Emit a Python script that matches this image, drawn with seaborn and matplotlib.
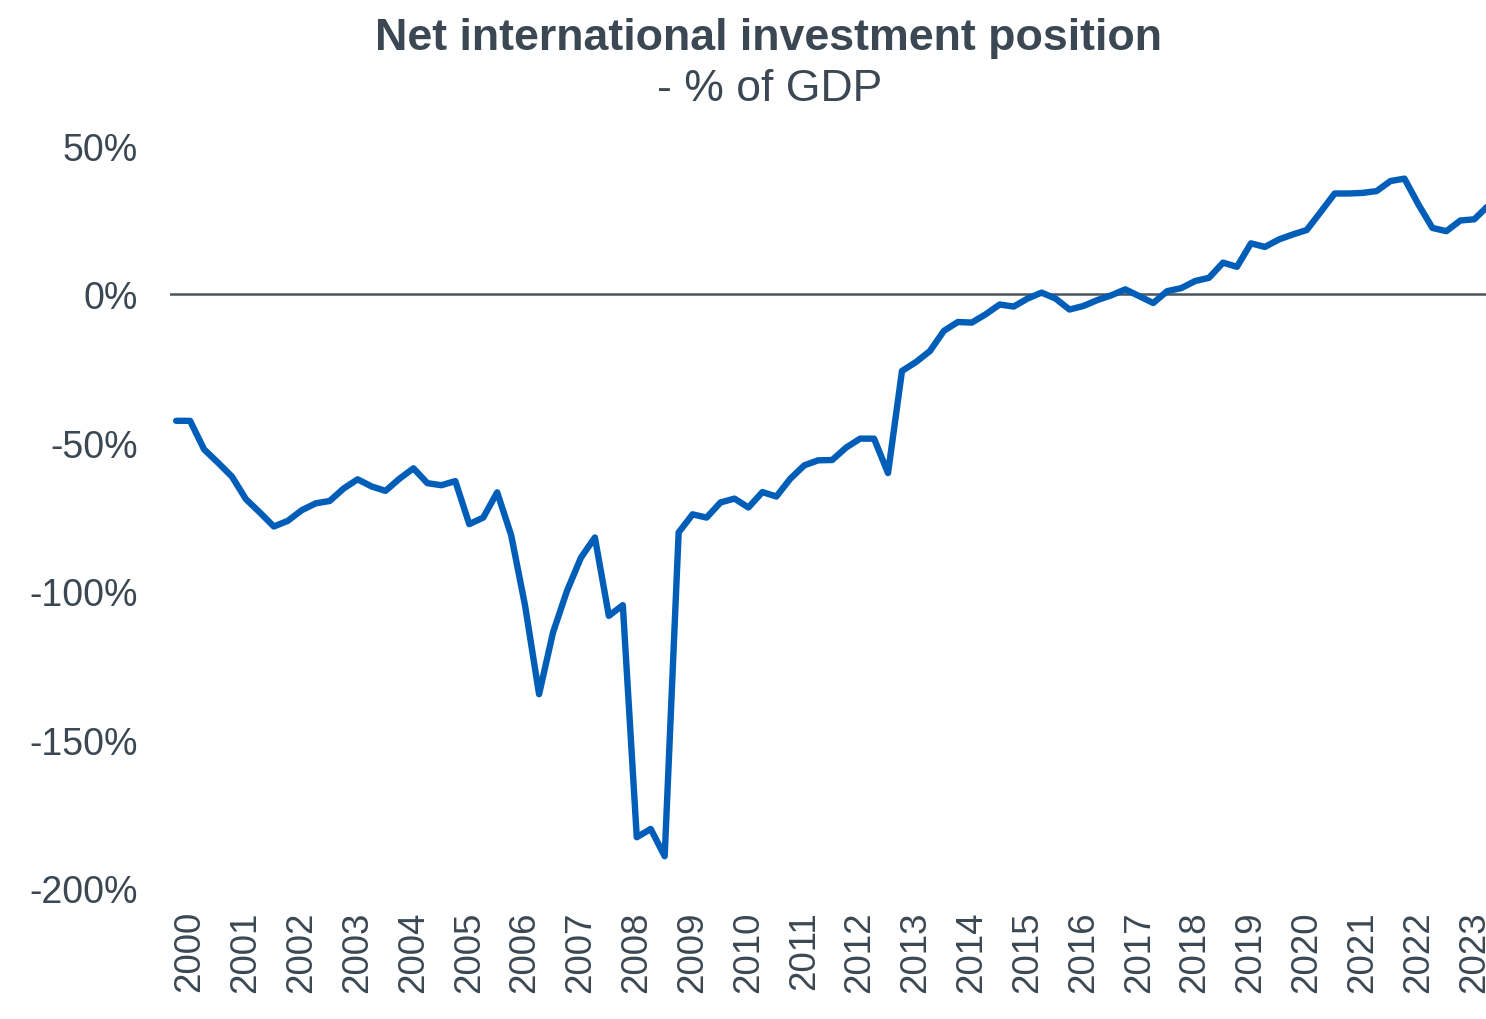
import numpy as np
import pandas as pd
import matplotlib
matplotlib.use("Agg")
import matplotlib.pyplot as plt
import seaborn as sns

# Quarterly data, starting 1999 Q4
start_year = 1999.75
niip_pct_gdp = [
    -42.6, -42.6, -52.2, -56.7, -61.4, -69.0, -73.5, -78.2, -76.3, -72.7,
    -70.4, -69.6, -65.4, -62.3, -64.7, -66.2, -62.1, -58.6, -63.6, -64.3,
    -62.9, -77.4, -75.2, -66.7, -81.1, -104.9, -134.7, -113.9, -99.9, -88.7,
    -81.9, -108.3, -104.7, -182.9, -180.1, -189.3, -80.2, -74.1, -75.2, -70.1,
    -68.8, -71.8, -66.6, -68.1, -62.1, -57.6, -55.9, -55.8, -51.6, -48.6,
    -48.6, -60.2, -25.8, -22.8, -19.1, -12.3, -9.3, -9.5, -6.7, -3.4,
    -4.1, -1.4, 0.6, -1.4, -5.1, -3.9, -1.9, -0.3, 1.7, -0.6,
    -2.9, 1.1, 2.1, 4.5, 5.6, 10.7, 9.3, 17.2, 16.0, 18.5,
    20.2, 21.7, 27.8, 34.0, 34.0, 34.2, 34.8, 38.2, 39.0, 30.3,
    22.4, 21.3, 24.9, 25.3, 29.9,
]
tick_years = list(range(2000, 2024))
y_ticks = [50, 0, -50, -100, -150, -200]
y_tick_labels = ["50%", "0%", "-50%", "-100%", "-150%", "-200%"]

title = "Net international investment position"
subtitle = "- % of GDP"

df = pd.DataFrame({
    "t": [start_year + 0.25 * i for i in range(len(niip_pct_gdp))],
    "v": niip_pct_gdp,
})

sns.set_style("white")
plt.rcParams["font.family"] = ["Liberation Sans", "DejaVu Sans"]

text_col = "#3B4853"
line_col = "#005EB8"

fig = plt.figure(figsize=(14.86, 10.20), dpi=100)
ax = fig.add_axes([170 / 1486, (1020 - 889) / 1020, (1486 - 170) / 1486, (889 - 147) / 1020])

ax.axhline(0, color="#4A555F", lw=1.8, zorder=1)
sns.lineplot(data=df, x="t", y="v", ax=ax, color=line_col, lw=4.6, zorder=3,
             solid_joinstyle="round", solid_capstyle="round", clip_on=True)

ax.set_xlim(1999.64, 2023.21)
ax.set_ylim(-200, 50)
ax.set_xticks(tick_years)
ax.set_xticklabels([str(y) for y in tick_years], rotation=90, fontsize=26.5, color=text_col)
ax.set_yticks(y_ticks)
ax.set_yticklabels(y_tick_labels, fontsize=27, color=text_col)
ax.tick_params(axis="y", length=0, pad=23)
ax.tick_params(axis="x", length=0, pad=16)
ax.set_xlabel("")
ax.set_ylabel("")
for s in ax.spines.values():
    s.set_visible(False)
ax.grid(False)

fig.text(0.517, 1 - 50 / 1020, title, ha="center", va="baseline",
         fontsize=32.2, fontweight="bold", color=text_col)
fig.text(0.518, 1 - 101 / 1020, subtitle, ha="center", va="baseline",
         fontsize=32, color=text_col)

fig.savefig("out.png", dpi=100, facecolor="white")
